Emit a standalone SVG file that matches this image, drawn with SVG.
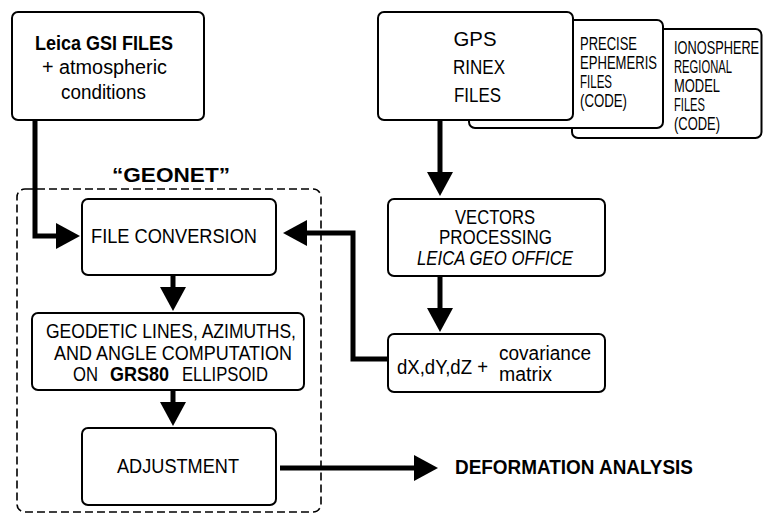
<svg xmlns="http://www.w3.org/2000/svg" width="763" height="514" viewBox="0 0 763 514">
  <style>
    .box { fill: #fff; stroke: #000; stroke-width: 2; }
    .group { fill: none; stroke: #000; stroke-width: 1.6; stroke-dasharray: 8 4; }
    .link { fill: none; stroke: #000; stroke-width: 5; marker-end: url(#head); }
    text { font-family: "Liberation Sans", Arial, sans-serif; font-size: 20px; fill: #000; }
    .c { text-anchor: middle; }
    .b { font-weight: bold; }
    .s { font-size: 17.5px; }
  </style>
  <defs>
    <marker id="head" markerUnits="userSpaceOnUse" markerWidth="24" markerHeight="26" refX="0" refY="13" orient="auto" overflow="visible">
      <path d="M0,0 L24,13 L0,26 Z" fill="#000"/>
    </marker>
  </defs>
  <rect width="763" height="514" fill="#fff"/>

  <!-- GEONET processing group -->
  <g id="geonet">
    <rect class="group" x="17" y="189" width="304" height="323" rx="8"/>
    <text class="c b" x="171" y="182" textLength="118" lengthAdjust="spacingAndGlyphs">“GEONET”</text>
  </g>

  <!-- connectors -->
  <g id="connectors">
    <path class="link" d="M35,120 V236 H56"/>
    <path class="link" d="M440,120 V172"/>
    <path class="link" d="M440,276 V308"/>
    <path class="link" d="M388,359 H353 V233 H307"/>
    <path class="link" d="M173,275 V287"/>
    <path class="link" d="M173,390 V402"/>
    <path class="link" d="M280,468 H414"/>
  </g>

  <g id="leica-gsi">
    <rect class="box" x="12" y="12" width="192" height="108" rx="6"/>
    <text class="c b" x="104" y="50" textLength="138" lengthAdjust="spacingAndGlyphs">Leica GSI FILES</text>
    <text class="c" x="104.5" y="74" textLength="125" lengthAdjust="spacingAndGlyphs">+ atmospheric</text>
    <text class="c" x="103.5" y="99" textLength="85" lengthAdjust="spacingAndGlyphs">conditions</text>
  </g>

  <g id="ionosphere">
    <rect class="box" x="572" y="29" width="189.5" height="109" rx="6"/>
    <!-- condensed by a horizontal scale so the long word stays inside the page -->
    <text class="s" transform="translate(674,54) scale(0.73,1)">IONOSPHERE</text>
    <text class="s" x="674" y="73" textLength="58" lengthAdjust="spacingAndGlyphs">REGIONAL</text>
    <text class="s" x="674" y="92" textLength="46" lengthAdjust="spacingAndGlyphs">MODEL</text>
    <text class="s" x="674" y="111" textLength="31" lengthAdjust="spacingAndGlyphs">FILES</text>
    <text class="s" x="674" y="130" textLength="46" lengthAdjust="spacingAndGlyphs">(CODE)</text>
  </g>

  <g id="precise-ephemeris">
    <rect class="box" x="469" y="20" width="194" height="108" rx="6"/>
    <text class="s" x="580" y="50" textLength="57" lengthAdjust="spacingAndGlyphs">PRECISE</text>
    <text class="s" x="580" y="69" textLength="77" lengthAdjust="spacingAndGlyphs">EPHEMERIS</text>
    <text class="s" x="580" y="88" textLength="32" lengthAdjust="spacingAndGlyphs">FILES</text>
    <text class="s" x="580" y="107" textLength="47" lengthAdjust="spacingAndGlyphs">(CODE)</text>
  </g>

  <g id="gps-rinex">
    <rect class="box" x="378" y="12" width="195" height="108" rx="6"/>
    <text class="c" x="475" y="46" textLength="43" lengthAdjust="spacingAndGlyphs">GPS</text>
    <text class="c" x="479" y="74" textLength="52" lengthAdjust="spacingAndGlyphs">RINEX</text>
    <text class="c" x="477.5" y="102" textLength="47" lengthAdjust="spacingAndGlyphs">FILES</text>
  </g>

  <g id="vectors-processing">
    <rect class="box" x="388" y="199" width="217" height="77" rx="6"/>
    <text class="c" x="495" y="224" font-size="19" textLength="80" lengthAdjust="spacingAndGlyphs">VECTORS</text>
    <text class="c" x="495.5" y="244" font-size="19" textLength="113" lengthAdjust="spacingAndGlyphs">PROCESSING</text>
    <text class="c" x="495" y="265" font-size="19" font-style="italic" textLength="156" lengthAdjust="spacingAndGlyphs">LEICA GEO OFFICE</text>
  </g>

  <g id="baseline-vectors">
    <rect class="box" x="388" y="334" width="217" height="58" rx="6"/>
    <text x="397" y="374" textLength="91" lengthAdjust="spacingAndGlyphs">dX,dY,dZ +</text>
    <text x="499" y="360" textLength="92" lengthAdjust="spacingAndGlyphs">covariance</text>
    <text x="499" y="381" textLength="53" lengthAdjust="spacingAndGlyphs">matrix</text>
  </g>

  <g id="file-conversion">
    <rect class="box" x="82" y="199" width="194" height="76" rx="6"/>
    <text class="c" x="174" y="243" textLength="166" lengthAdjust="spacingAndGlyphs">FILE CONVERSION</text>
  </g>

  <g id="geodetic-computation">
    <rect class="box" x="32" y="313" width="272" height="77" rx="6"/>
    <text class="c" x="171" y="338" textLength="250" lengthAdjust="spacingAndGlyphs">GEODETIC LINES, AZIMUTHS,</text>
    <text class="c" x="173" y="360" textLength="238" lengthAdjust="spacingAndGlyphs">AND ANGLE COMPUTATION</text>
    <text x="73" y="381" textLength="25" lengthAdjust="spacingAndGlyphs">ON</text>
    <text class="b" x="110" y="381" textLength="59" lengthAdjust="spacingAndGlyphs">GRS80</text>
    <text x="182" y="381" textLength="86" lengthAdjust="spacingAndGlyphs">ELLIPSOID</text>
  </g>

  <g id="adjustment">
    <rect class="box" x="82" y="428" width="194" height="77" rx="6"/>
    <text class="c" x="178" y="473" textLength="122" lengthAdjust="spacingAndGlyphs">ADJUSTMENT</text>
  </g>

  <g id="deformation-analysis">
    <text class="b" x="455" y="474" textLength="238" lengthAdjust="spacingAndGlyphs">DEFORMATION ANALYSIS</text>
  </g>
</svg>
